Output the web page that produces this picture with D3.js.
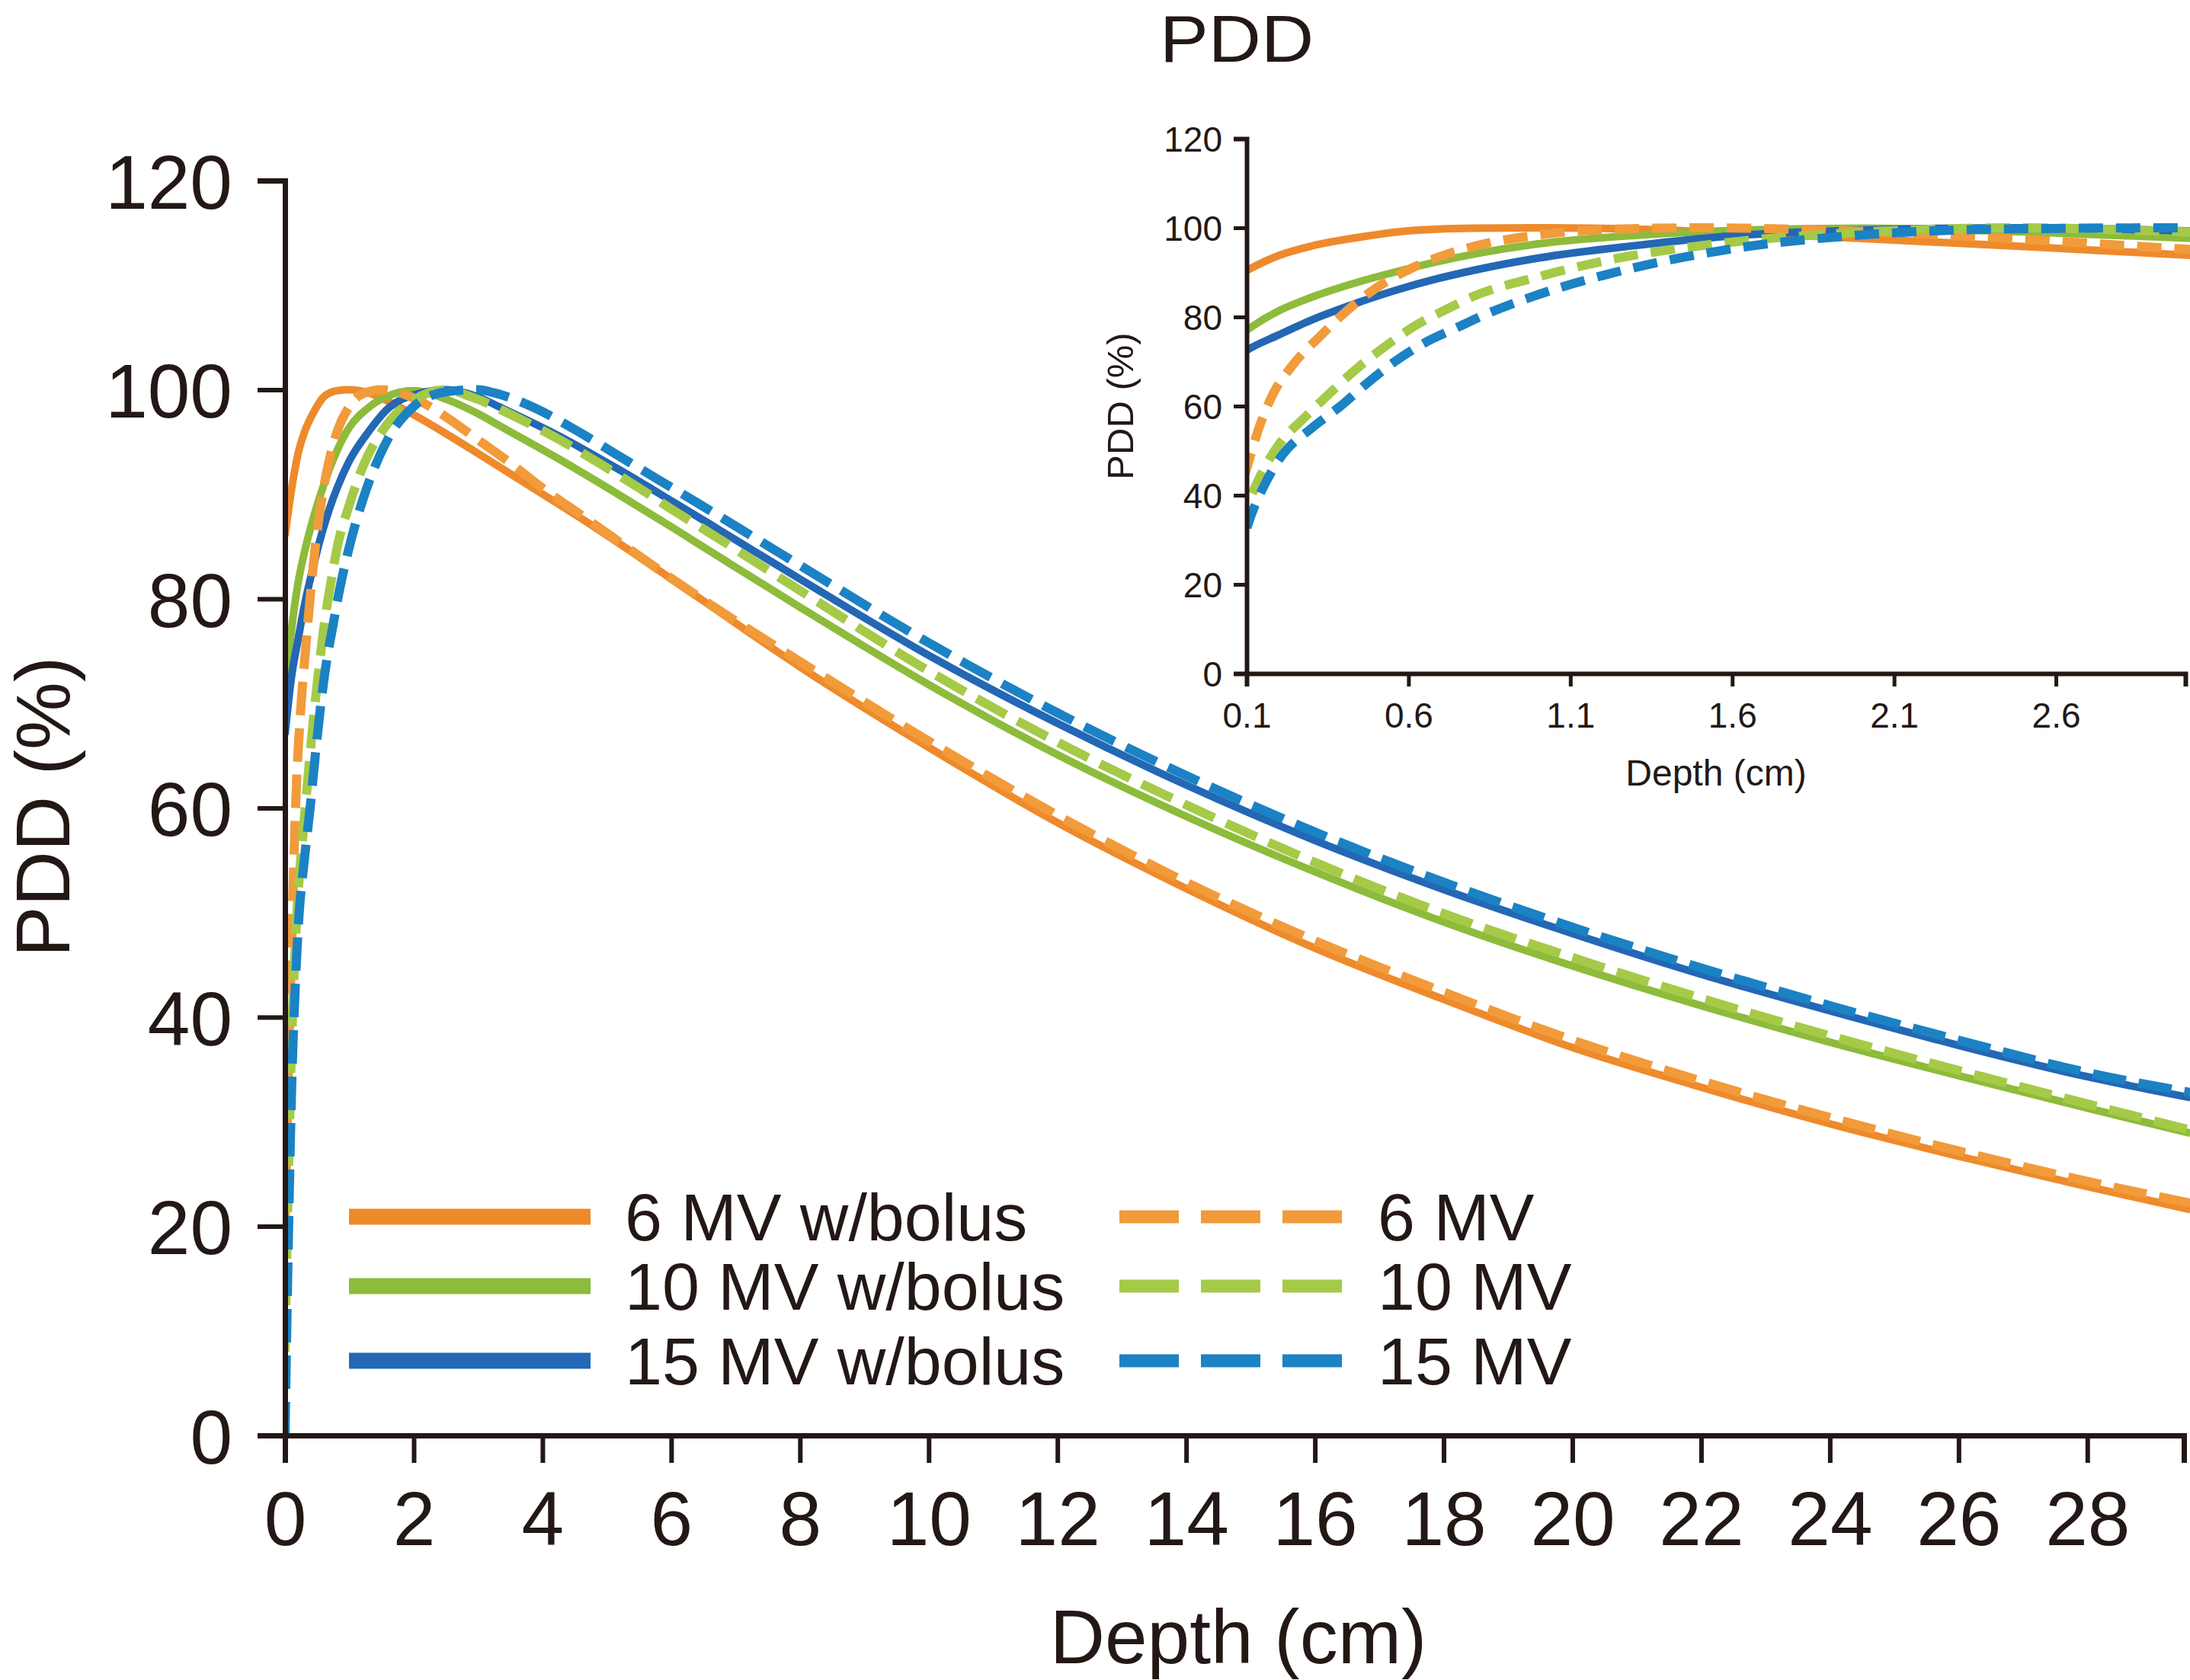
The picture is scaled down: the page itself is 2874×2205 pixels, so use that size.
<!DOCTYPE html>
<html><head><meta charset="utf-8">
<script src="https://cdn.jsdelivr.net/npm/d3@7"></script>
<style>
html,body{margin:0;padding:0;background:#fff;}
text{font-family:"Liberation Sans",Arial,Helvetica,sans-serif;fill:#231815;}
</style></head>
<body>
<svg id="chart" width="2874" height="2205"></svg>
<script>
// ---- data ----
const seriesNames = ["6 MV w/bolus", "10 MV w/bolus", "15 MV w/bolus", "6 MV", "10 MV", "15 MV"];

const depth6B = [0, 0.1, 0.2, 0.3, 0.45, 0.6, 0.8, 1.0, 1.3, 1.6, 2.0, 2.5, 3.0, 3.8, 4.7, 5.6, 6.5, 8, 10, 12, 14, 16, 18, 20, 22, 24, 26, 28, 29.6];
const pdd6B   = [86, 90.4, 93.8, 95.9, 97.9, 99.3, 99.9, 100, 99.7, 98.9, 97.6, 95.8, 93.9, 90.8, 87.3, 83.6, 79.8, 73.5, 65.8, 58.6, 52.3, 46.6, 41.7, 37.1, 33.3, 29.8, 26.7, 23.8, 21.6];

const depth10B = [0, 0.1, 0.2, 0.3, 0.42, 0.57, 0.69, 0.81, 1.0, 1.3, 1.6, 2.0, 2.5, 3.0, 3.35, 4.25, 5.15, 6.05, 6.8, 8, 10, 12, 14, 16, 18, 20, 22, 24, 26, 28, 29.6];
const pdd10B   = [71, 77, 81.4, 84.4, 87.3, 90.3, 92.4, 94.2, 96.4, 98.3, 99.4, 99.9, 99.1, 97.7, 96.5, 93.4, 90.1, 86.7, 83.8, 79.2, 71.8, 65.1, 59.2, 53.9, 49.1, 44.9, 41.1, 37.6, 34.4, 31.3, 28.9];

const depth15B = [0, 0.1, 0.2, 0.3, 0.42, 0.57, 0.69, 0.81, 1.0, 1.3, 1.6, 2.0, 2.5, 3.0, 3.35, 4.25, 5.15, 6.05, 6.8, 8, 10, 12, 14, 16, 18, 20, 22, 24, 26, 28, 29.6];
const pdd15B   = [67, 72.5, 76, 79.3, 82.6, 86.2, 88.6, 90.6, 93.2, 96, 98.2, 99.5, 100, 99.3, 98.3, 95.6, 92.5, 89.2, 86.4, 81.9, 74.6, 68.1, 62.2, 56.9, 52.2, 48, 44.1, 40.6, 37.3, 34.3, 32.3];

const depth6 = [0, 0.05, 0.1, 0.14, 0.18, 0.24, 0.33, 0.41, 0.5, 0.6, 0.7, 0.8, 1.0, 1.2, 1.5, 2.0, 2.5, 3.0, 3.5, 4.0, 4.65, 5.25, 5.85, 6.4, 8, 10, 12, 14, 16, 18, 20, 22, 24, 26, 28, 29.6];
const pdd6   = [20, 34, 46, 55.5, 62.5, 69, 75.9, 81.4, 86.5, 90.6, 93.6, 95.8, 98.4, 99.6, 100, 99.2, 97.4, 95.2, 93, 90.6, 87.8, 85.2, 82.6, 80.3, 74.0, 66.4, 59.3, 52.9, 47.3, 42.4, 37.8, 33.9, 30.4, 27.2, 24.3, 22.2];

const depth10 = [0, 0.05, 0.1, 0.14, 0.2, 0.28, 0.36, 0.44, 0.53, 0.62, 0.72, 0.8, 1.0, 1.2, 1.6, 2.0, 2.5, 2.9, 3.65, 4.3, 4.9, 5.5, 6.05, 6.6, 8, 10, 12, 14, 16, 18, 20, 22, 24, 26, 28, 29.6];
const pdd10   = [8, 24, 37, 44, 51.4, 57.5, 63.1, 68.4, 73.5, 78, 81.8, 84.6, 89, 92.5, 96.8, 99, 100, 99.3, 97.2, 95.1, 92.9, 90.6, 88.4, 86.3, 80.8, 73.1, 66.3, 60.3, 54.8, 49.9, 45.7, 41.8, 38.2, 34.9, 31.7, 29.2];

const depth15 = [0, 0.05, 0.1, 0.16, 0.21, 0.3, 0.39, 0.47, 0.56, 0.65, 0.75, 0.82, 1.0, 1.2, 1.6, 2.0, 2.5, 3.0, 3.25, 3.9, 4.5, 5.15, 5.8, 6.4, 8, 10, 12, 14, 16, 18, 20, 22, 24, 26, 28, 29.6];
const pdd15   = [0, 18, 32.5, 43, 49, 55, 60, 65, 70.1, 74.2, 77.6, 80, 85, 89.3, 95.3, 98.4, 99.8, 100, 99.7, 98.2, 96.2, 93.8, 91.4, 89.2, 83.2, 75.8, 69.1, 63.1, 57.7, 52.9, 48.6, 44.7, 41.1, 37.8, 34.7, 32.8];

const mainXTicks = [0, 2, 4, 6, 8, 10, 12, 14, 16, 18, 20, 22, 24, 26, 28];
const mainYTicks = [0, 20, 40, 60, 80, 100, 120];
const insetXTicks = [0.1, 0.6, 1.1, 1.6, 2.1, 2.6];
const insetXLabels = ["0.1", "0.6", "1.1", "1.6", "2.1", "2.6"];
const insetYTicks = [0, 20, 40, 60, 80, 100, 120];

// ---- styles ----
const colors = ["#EE8A2C", "#8DBB3B", "#2367B5", "#F19B3A", "#A5CA48", "#1B82C4"];
const dashed = [false, false, false, true, true, true];

const series = [
  {x: depth6B, y: pdd6B}, {x: depth10B, y: pdd10B}, {x: depth15B, y: pdd15B},
  {x: depth6, y: pdd6}, {x: depth10, y: pdd10}, {x: depth15, y: pdd15}
].map((s, i) => ({name: seriesNames[i], color: colors[i], dashed: dashed[i],
  points: s.x.map((d, j) => [d, s.y[j]])}));

const svg = d3.select("#chart");
const ink = "#231815";

// ---- main chart ----
const x = d3.scaleLinear().domain([0, 29.5]).range([374, 2866]);
const y = d3.scaleLinear().domain([0, 120]).range([1884, 237]);

svg.append("defs").append("clipPath").attr("id", "mainClip")
  .append("rect").attr("x", 374).attr("y", 150).attr("width", 2500).attr("height", 1740);

const lineMain = d3.line().x(d => x(d[0])).y(d => y(d[1])).curve(d3.curveMonotoneX);
const gMain = svg.append("g").attr("clip-path", "url(#mainClip)");
gMain.selectAll("path").data(series).join("path")
  .attr("d", d => lineMain(d.points))
  .attr("fill", "none")
  .attr("stroke", d => d.color)
  .attr("stroke-width", d => d.dashed ? 12 : 10)
  .attr("stroke-dasharray", d => d.dashed ? "44,17" : null);

const xAxis = d3.axisBottom(x).tickValues(mainXTicks).tickFormat(d3.format("d"))
  .tickSize(36).tickSizeOuter(36).tickPadding(37);
const gx = svg.append("g").attr("transform", "translate(0,1884)").call(xAxis);
const yAxis = d3.axisLeft(y).tickValues(mainYTicks).tickFormat(d3.format("d"))
  .tickSize(36).tickSizeOuter(36).tickPadding(33);
const gy = svg.append("g").attr("transform", "translate(374,0)").call(yAxis);
[gx, gy].forEach(g => {
  g.select(".domain").attr("stroke", ink).attr("stroke-width", 7);
  g.selectAll(".tick line").attr("stroke", ink).attr("stroke-width", 6);
  g.selectAll(".tick text").attr("font-size", 100).style("fill", ink)
    .attr("font-family", "Liberation Sans, Arial, sans-serif");
});
gy.selectAll(".tick text").attr("dy", "0.36em");

svg.append("text").attr("x", 1625).attr("y", 2183).attr("text-anchor", "middle")
  .attr("font-size", 100).text("Depth (cm)");
svg.append("text").attr("transform", "translate(91,1059) rotate(-90)")
  .attr("text-anchor", "middle").attr("font-size", 100).text("PDD (%)");

// ---- legend ----
const legendRowsY = [1597, 1688, 1786];
const legend = svg.append("g");
series.forEach((s, i) => {
  const col = s.dashed ? 1 : 0;
  const row = i % 3;
  const yy = legendRowsY[row];
  const x1 = col === 0 ? 458 : 1469;
  const x2 = col === 0 ? 775 : 1761;
  legend.append("line").attr("x1", x1).attr("x2", x2).attr("y1", yy).attr("y2", yy)
    .attr("stroke", s.color).attr("stroke-width", s.dashed ? 17 : 21)
    .attr("stroke-dasharray", s.dashed ? "78,29" : null);
  legend.append("text").attr("x", col === 0 ? 820 : 1808).attr("y", yy + 31)
    .attr("font-size", 88).text(s.name);
});

// ---- inset ----
const xi = d3.scaleLinear().domain([0.1, 3.0]).range([1636, 2868]);
const yi = d3.scaleLinear().domain([0, 120]).range([884, 182]);
svg.select("defs").append("clipPath").attr("id", "insetClip")
  .append("rect").attr("x", 1636).attr("y", 150).attr("width", 1240).attr("height", 734);
const lineInset = d3.line().x(d => xi(d[0])).y(d => yi(d[1])).curve(d3.curveMonotoneX);
const gIn = svg.append("g").attr("clip-path", "url(#insetClip)");
gIn.selectAll("path").data(series).join("path")
  .attr("d", d => lineInset(d.points))
  .attr("fill", "none")
  .attr("stroke", d => d.color)
  .attr("stroke-width", d => d.dashed ? 12 : 10)
  .attr("stroke-dasharray", d => d.dashed ? "32,17" : null);

const xiAxis = d3.axisBottom(xi).tickValues(insetXTicks)
  .tickFormat((d, i) => insetXLabels[i]).tickSize(17).tickSizeOuter(17).tickPadding(21);
const gxi = svg.append("g").attr("transform", "translate(0,884)").call(xiAxis);
const yiAxis = d3.axisLeft(yi).tickValues(insetYTicks).tickFormat(d3.format("d"))
  .tickSize(17).tickSizeOuter(17).tickPadding(15);
const gyi = svg.append("g").attr("transform", "translate(1636,0)").call(yiAxis);
[gxi, gyi].forEach(g => {
  g.select(".domain").attr("stroke", ink).attr("stroke-width", 6);
  g.selectAll(".tick line").attr("stroke", ink).attr("stroke-width", 5);
  g.selectAll(".tick text").attr("font-size", 46).style("fill", ink)
    .attr("font-family", "Liberation Sans, Arial, sans-serif");
});
gyi.selectAll(".tick text").attr("dy", "0.36em");

svg.append("text").attr("x", 2252).attr("y", 1031).attr("text-anchor", "middle")
  .attr("font-size", 48).text("Depth (cm)");
svg.append("text").attr("transform", "translate(1487,533) rotate(-90)")
  .attr("text-anchor", "middle").attr("font-size", 49).text("PDD (%)");
svg.append("text").attr("x", 1522).attr("y", 81).attr("font-size", 88)
  .attr("textLength", 202).attr("lengthAdjust", "spacingAndGlyphs").text("PDD");
</script>
</body></html>
